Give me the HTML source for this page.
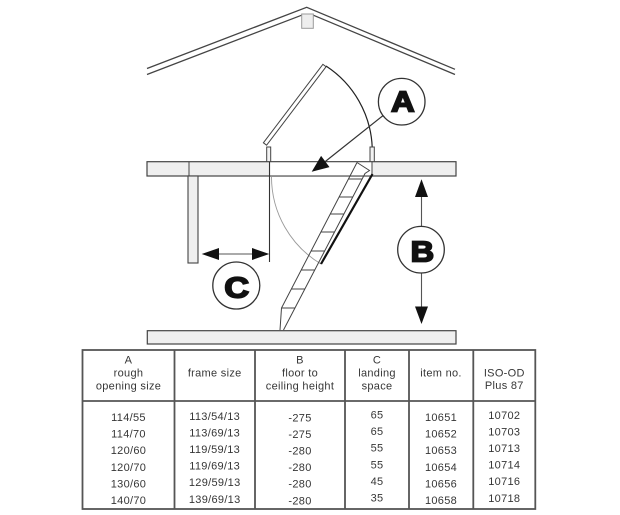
<!DOCTYPE html>
<html><head><meta charset="utf-8"><style>
html,body{margin:0;padding:0;background:#fff;}
svg{display:block;}
text{font-family:"Liberation Sans",Arial,sans-serif;}
.t{font-size:11px;fill:#363636;letter-spacing:0.3px;text-anchor:middle;}
.big{font-size:29px;font-weight:bold;fill:#111;stroke:#111;stroke-width:1.8;text-anchor:middle;}
</style></head><body>
<svg width="620" height="515" viewBox="0 0 620 515" xmlns="http://www.w3.org/2000/svg">
<!-- roof -->
<g fill="none" stroke="#444" stroke-width="1.3">
<polyline points="147,68.5 306.7,7.3 455,69.3"/>
<polyline points="147,74.5 301.7,15.2"/>
<polyline points="313.3,15.2 455,74.5"/>
</g>
<rect x="301.7" y="14" width="11.6" height="14.3" fill="#eee" stroke="#9a9a9a" stroke-width="1"/>

<!-- opened hatch door -->
<polygon points="263.4,142.8 266.6,145.2 326.1,66.7 322.9,64.3" fill="#fff" stroke="#444" stroke-width="1"/>
<path d="M326,66 A102,102 0 0 1 372.2,147" fill="none" stroke="#222" stroke-width="1.2"/>
<rect x="266.7" y="147" width="4" height="15" fill="#f3f3f3" stroke="#444" stroke-width="1"/>
<rect x="370" y="147" width="4.3" height="15" fill="#f3f3f3" stroke="#444" stroke-width="1"/>

<!-- ceiling board -->
<rect x="147" y="161.7" width="309" height="14.3" fill="#efefef" stroke="#444" stroke-width="1.2"/>
<rect x="270.3" y="162.4" width="101.3" height="12.9" fill="#fff"/>
<line x1="189" y1="162" x2="189" y2="176" stroke="#444" stroke-width="1"/>
<line x1="372" y1="162" x2="372" y2="176" stroke="#444" stroke-width="1"/>
<line x1="269.5" y1="162" x2="269.5" y2="262" stroke="#333" stroke-width="1.1"/>

<!-- left post -->
<rect x="188" y="176" width="10" height="87" fill="#efefef" stroke="#444" stroke-width="1.1"/>

<!-- floor -->
<rect x="147.3" y="330.7" width="308.7" height="13.3" fill="#efefef" stroke="#444" stroke-width="1.2"/>

<!-- lower swing arc -->
<path d="M271.5,177 A101.5,101.5 0 0 0 321,264" fill="none" stroke="#9a9a9a" stroke-width="0.9"/>

<!-- ladder -->
<g fill="none" stroke="#444" stroke-width="1">
<polyline points="357,162.5 281.5,308 280,330"/>
<polyline points="357,162.5 369.5,170.5 365,173.5 283.5,330"/>
<line x1="348.4" y1="179" x2="362.1" y2="179"/>
<line x1="339.1" y1="197" x2="352.8" y2="197"/>
<line x1="330.3" y1="214" x2="343.9" y2="214"/>
<line x1="320.9" y1="232" x2="334.5" y2="232"/>
<line x1="311.1" y1="251" x2="324.6" y2="251"/>
<line x1="301.2" y1="270" x2="314.7" y2="270"/>
<line x1="291.3" y1="289" x2="304.8" y2="289"/>
<line x1="281.5" y1="308" x2="294.9" y2="308"/>
</g>
<line x1="372.5" y1="174" x2="321" y2="264" stroke="#111" stroke-width="2.2"/>

<!-- A arrow -->
<line x1="383" y1="115.6" x2="325.3" y2="161.5" stroke="#333" stroke-width="1.2"/>
<polygon points="311.7,171.7 321.1,155.9 329.5,167.1" fill="#111"/>

<!-- C arrow -->
<line x1="218" y1="254" x2="253" y2="254" stroke="#777" stroke-width="1.2"/>
<polygon points="201.7,254 219,248 219,260" fill="#111"/>
<polygon points="269.3,254 252,248 252,260" fill="#111"/>

<!-- B arrow -->
<line x1="421.5" y1="196" x2="421.5" y2="226.4" stroke="#555" stroke-width="1.1"/>
<line x1="421.5" y1="273" x2="421.5" y2="307" stroke="#555" stroke-width="1.1"/>
<polygon points="421.5,179.3 415,197 428,197" fill="#111"/>
<polygon points="421.5,324 415,306.5 428,306.5" fill="#111"/>

<!-- circles -->
<circle cx="401.7" cy="101.7" r="23.3" fill="#fff" stroke="#333" stroke-width="1.3"/>
<circle cx="421" cy="249.7" r="23.3" fill="#fff" stroke="#333" stroke-width="1.3"/>
<circle cx="236.3" cy="285.5" r="23.5" fill="#fff" stroke="#333" stroke-width="1.3"/>
<text class="big" transform="translate(402.8,111.5) scale(1.12,1)">A</text>
<text class="big" transform="translate(422.3,261.3) scale(1.12,1)">B</text>
<text class="big" transform="translate(236.7,297.3) scale(1.18,1)">C</text>

<!-- table -->
<g fill="none" stroke="#555" stroke-width="1.8">
<rect x="82.5" y="350" width="452.8" height="159"/>
<line x1="82.5" y1="401" x2="535.3" y2="401"/>
<line x1="174.5" y1="350" x2="174.5" y2="509"/>
<line x1="255" y1="350" x2="255" y2="509"/>
<line x1="345" y1="350" x2="345" y2="509"/>
<line x1="409" y1="350" x2="409" y2="509"/>
<line x1="473.3" y1="350" x2="473.3" y2="509"/>
</g>

<text class="t" x="128.5" y="363.5">A</text>
<text class="t" x="128.5" y="376.5">rough</text>
<text class="t" x="128.5" y="389.5">opening size</text>
<text class="t" x="214.7" y="376.5">frame size</text>
<text class="t" x="300" y="363.5">B</text>
<text class="t" x="300" y="376.5">floor to</text>
<text class="t" x="300" y="389.5">ceiling height</text>
<text class="t" x="377" y="363.5">C</text>
<text class="t" x="377" y="376.5">landing</text>
<text class="t" x="377" y="389.5">space</text>
<text class="t" x="441" y="376.5">item no.</text>
<text class="t" x="504.3" y="376.5">ISO-OD</text>
<text class="t" x="504.3" y="389">Plus 87</text>

<g class="t">
<text class="t" x="128.5" y="421">114/55</text>
<text class="t" x="128.5" y="437.6">114/70</text>
<text class="t" x="128.5" y="454.2">120/60</text>
<text class="t" x="128.5" y="470.8">120/70</text>
<text class="t" x="128.5" y="487.4">130/60</text>
<text class="t" x="128.5" y="504">140/70</text>

<text class="t" x="214.7" y="419.8">113/54/13</text>
<text class="t" x="214.7" y="436.4">113/69/13</text>
<text class="t" x="214.7" y="453">119/59/13</text>
<text class="t" x="214.7" y="469.6">119/69/13</text>
<text class="t" x="214.7" y="486.2">129/59/13</text>
<text class="t" x="214.7" y="502.8">139/69/13</text>

<text class="t" x="300" y="421.3">-275</text>
<text class="t" x="300" y="437.9">-275</text>
<text class="t" x="300" y="454.5">-280</text>
<text class="t" x="300" y="471.1">-280</text>
<text class="t" x="300" y="487.7">-280</text>
<text class="t" x="300" y="504.3">-280</text>

<text class="t" x="377" y="418.5">65</text>
<text class="t" x="377" y="435.1">65</text>
<text class="t" x="377" y="451.7">55</text>
<text class="t" x="377" y="468.3">55</text>
<text class="t" x="377" y="484.9">45</text>
<text class="t" x="377" y="501.5">35</text>

<text class="t" x="441" y="421">10651</text>
<text class="t" x="441" y="437.6">10652</text>
<text class="t" x="441" y="454.2">10653</text>
<text class="t" x="441" y="470.8">10654</text>
<text class="t" x="441" y="487.4">10656</text>
<text class="t" x="441" y="504">10658</text>

<text class="t" x="504.3" y="418.8">10702</text>
<text class="t" x="504.3" y="435.4">10703</text>
<text class="t" x="504.3" y="452">10713</text>
<text class="t" x="504.3" y="468.6">10714</text>
<text class="t" x="504.3" y="485.2">10716</text>
<text class="t" x="504.3" y="501.8">10718</text>
</g>
</svg>
</body></html>
